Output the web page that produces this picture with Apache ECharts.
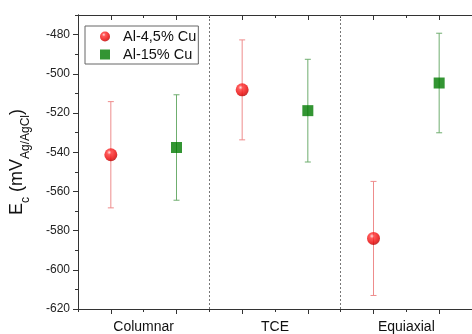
<!DOCTYPE html>
<html><head><meta charset="utf-8">
<script src="https://cdn.jsdelivr.net/npm/echarts@6/dist/echarts.min.js"></script>
<style>html,body{margin:0;padding:0;background:#fff}#c{width:472px;height:334px}</style>
</head><body><div id="c"></div>
<script>
const categories = ['Columnar', 'TCE', 'Equiaxial'];
const categoryPos = [2, 6, 10];
const dividers = [4, 8];
const seriesNames = ['Al-4,5% Cu', 'Al-15% Cu'];
const xRed = [1, 5, 9];
const xGreen = [3, 7, 11];
const redMean = [-541.3, -508.2, -584.0];
const redErr = [27.1, 25.5, 29.1];
const greenMean = [-537.6, -518.8, -504.7];
const greenErr = [26.9, 26.2, 25.4];
const yMajor = [-620, -600, -580, -560, -540, -520, -500, -480];
const yMinor = [-610, -590, -570, -550, -530, -510, -490, -470];
const xMajor = [1, 3, 5, 7, 9, 11];
const xMinor = [0, 2, 4, 6, 8, 10, 12];

const FONT = "'Liberation Sans', Arial, sans-serif";
const AX = '#333';

function errData(xs, m, e) { return xs.map((x, i) => [x, m[i] - e[i], m[i] + e[i]]); }
function ptData(xs, m) { return xs.map((x, i) => [x, m[i]]); }

function errSeries(name, data, color) {
  return {
    type: 'custom', name: name, xAxisIndex: 0, yAxisIndex: 0, z: 1, silent: true,
    data: data,
    renderItem(params, api) {
      const x = api.value(0), lo = api.value(1), hi = api.value(2);
      const a = api.coord([x, lo]), b = api.coord([x, hi]);
      const c = 3, st = { stroke: color, lineWidth: 1 };
      return { type: 'group', children: [
        { type: 'line', shape: { x1: a[0], y1: a[1], x2: b[0], y2: b[1] }, style: st },
        { type: 'line', shape: { x1: a[0] - c, y1: a[1], x2: a[0] + c, y2: a[1] }, style: st },
        { type: 'line', shape: { x1: b[0] - c, y1: b[1], x2: b[0] + c, y2: b[1] }, style: st }
      ] };
    }
  };
}

const xBase = { type: 'value', min: 0, max: 12, gridIndex: 0, splitLine: { show: false } };
const yBase = { type: 'value', min: -620, max: -470, gridIndex: 0, splitLine: { show: false } };

const option = {
  animation: false,
  backgroundColor: '#fff',
  grid: { left: 76, top: 15, width: 400, height: 295 },
  legend: {
    data: seriesNames, orient: 'vertical', left: 85, top: 26,
    borderColor: '#666', borderWidth: 1, padding: [3, 2, 2, 15], itemGap: 3,
    itemWidth: 10, itemHeight: 10,
    textStyle: { fontFamily: FONT, fontSize: 14.5, color: '#111', padding: [0, 0, 0, 8] }
  },
  xAxis: [
    Object.assign({}, xBase, { position: 'bottom',
      axisLine: { show: true, lineStyle: { color: AX } },
      axisTick: { show: true, customValues: xMajor, length: 5, lineStyle: { color: AX } },
      axisLabel: { show: true, customValues: categoryPos, margin: 11, fontFamily: FONT, fontSize: 14, color: '#111',
        formatter: v => categories[categoryPos.indexOf(Math.round(v))] || '' } }),
    Object.assign({}, xBase, { position: 'bottom',
      axisLine: { show: false },
      axisTick: { show: true, customValues: xMinor, length: 3, lineStyle: { color: AX } },
      axisLabel: { show: false } }),
    Object.assign({}, xBase, { position: 'top',
      axisLine: { show: true, lineStyle: { color: AX } },
      axisTick: { show: true, inside: true, customValues: xMajor, length: 5, lineStyle: { color: AX } },
      axisLabel: { show: false } }),
    Object.assign({}, xBase, { position: 'top',
      axisLine: { show: false },
      axisTick: { show: true, inside: true, customValues: xMinor, length: 3, lineStyle: { color: AX } },
      axisLabel: { show: false } })
  ],
  yAxis: [
    Object.assign({}, yBase, { position: 'left',
      axisLine: { show: true, lineStyle: { color: AX } },
      axisTick: { show: true, customValues: yMajor, length: 5, lineStyle: { color: AX } },
      axisLabel: { show: true, customValues: yMajor, margin: 8, fontFamily: FONT, fontSize: 12, color: '#222' },
      name: '{m|E}{s|c}{m| (mV}{s|Ag/AgCl}{m|)}',
      nameLocation: 'middle', nameRotate: 90, nameGap: 46,
      nameTextStyle: { rich: {
        m: { fontFamily: FONT, fontSize: 18, lineHeight: 30, color: '#111' },
        s: { fontFamily: FONT, fontSize: 12, lineHeight: 12, verticalAlign: 'bottom', color: '#111' }
      } } }),
    Object.assign({}, yBase, { position: 'left',
      axisLine: { show: false },
      axisTick: { show: true, customValues: yMinor, length: 3, lineStyle: { color: AX } },
      axisLabel: { show: false } }),
    Object.assign({}, yBase, { position: 'right',
      axisLine: { show: true, lineStyle: { color: AX } },
      axisTick: { show: true, inside: true, customValues: yMajor, length: 5, lineStyle: { color: AX } },
      axisLabel: { show: false } })
  ],
  series: [
    errSeries('errRed', errData(xRed, redMean, redErr), '#ee8c8c'),
    errSeries('errGreen', errData(xGreen, greenMean, greenErr), '#6fae6f'),
    {
      type: 'scatter', name: seriesNames[0], xAxisIndex: 0, yAxisIndex: 0, z: 3,
      symbol: 'circle', symbolSize: 13,
      itemStyle: { color: { type: 'radial', x: 0.38, y: 0.32, r: 0.7, colorStops: [
        { offset: 0, color: '#ffd6d6' }, { offset: 0.25, color: '#ff3030' },
        { offset: 0.75, color: '#e80000' }, { offset: 1, color: '#b00000' } ] } },
      data: ptData(xRed, redMean),
      markLine: { silent: true, symbol: 'none', label: { show: false },
        lineStyle: { type: [2, 2], color: '#777', width: 1 },
        data: dividers.map(v => ({ xAxis: v })) }
    },
    {
      type: 'scatter', name: seriesNames[1], xAxisIndex: 0, yAxisIndex: 0, z: 3,
      symbol: 'rect', symbolSize: 11,
      itemStyle: { color: '#007a00' },
      data: ptData(xGreen, greenMean)
    }
  ]
};
const chart = echarts.init(document.getElementById('c'), null, { renderer: 'canvas' });
chart.setOption(option);
</script></body></html>
